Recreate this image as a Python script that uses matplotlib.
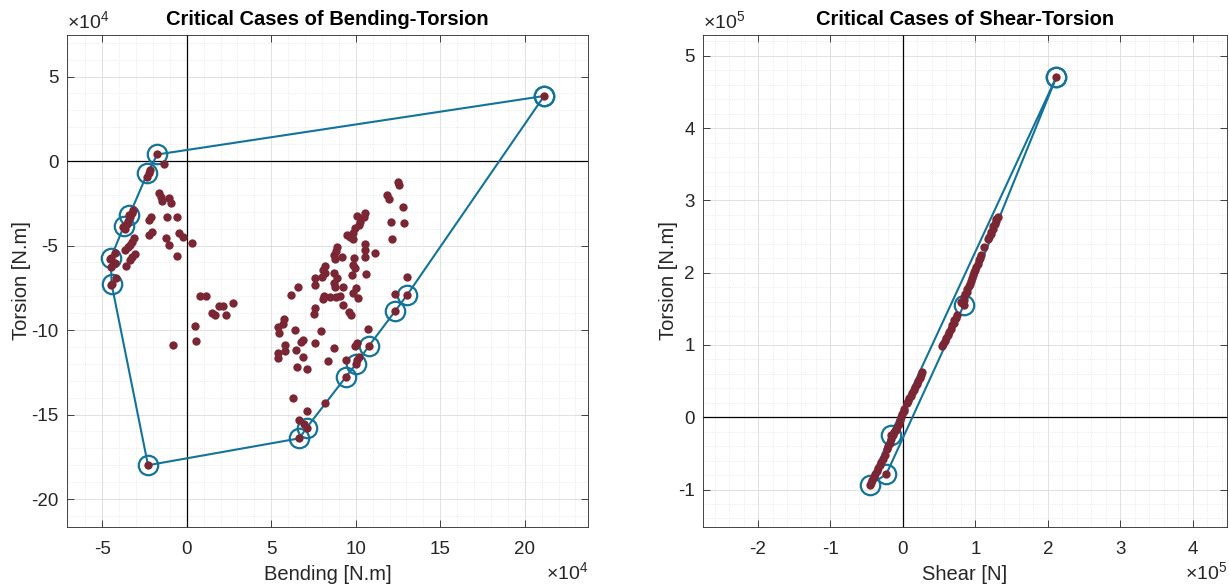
import matplotlib.pyplot as plt
from matplotlib.ticker import MultipleLocator

plt.rcParams['font.family'] = ['Liberation Sans', 'DejaVu Sans']
plt.rcParams['mathtext.fontset'] = 'custom'
plt.rcParams['mathtext.rm'] = 'Liberation Sans'

# bending-torsion cases, both in units of 1e4 N.m
bend = [-1.74, -1.32, -2.33, -2.25, -2.17, -1.62, -1.54, -1.46, -1.07, -0.93,
        -3.16, -3.25, -3.35, -3.45, -3.55, -3.65, -3.75, -2.13, -2.21, -1.14,
        -0.59, -2.07, -2.21, -1.22, -1.07, -0.43, -0.24, 0.34, -0.55, -3.12,
        -3.25, -3.35, -3.45, -3.65, -3.06, -3.25, -3.35, -3.59, -4.22, -4.54,
        -4.22, -4.50, -4.20, -4.48, -3.39, -3.71, -4.50, -4.44, -2.29,
        0.79, 1.14, 1.93, 2.17, 2.76, 1.48, 1.68, 2.31, 0.51, 0.55, -0.79,
        12.52, 12.58, 11.87, 11.95, 12.78, 12.09, 12.86, 12.17, 10.06, 10.55,
        10.51, 10.26, 10.22, 9.96, 9.82, 9.51, 9.66, 9.86, 10.55, 10.57,
        10.53, 11.12, 8.92, 8.84, 8.72, 8.76, 9.21, 9.90, 9.86, 9.98,
        9.76, 10.61, 8.19, 8.09, 8.21, 8.01, 8.72, 8.92, 8.72, 8.78,
        9.23, 7.59, 7.61, 6.57, 6.19, 8.13, 8.05, 8.48, 8.84, 9.07,
        9.99, 9.82, 10.12, 9.23, 9.63, 9.70, 7.59, 7.55, 13.02, 12.33,
        13.04, 12.35, 5.76, 5.72, 5.38, 5.44, 6.39, 7.93, 6.86, 6.79,
        7.59, 5.82, 5.80, 5.40, 5.42, 6.47, 6.90, 6.51, 7.10, 8.72,
        8.38, 10.75, 10.79, 10.10, 9.96, 10.22, 10.06, 10.02, 9.41, 9.43,
        8.19, 6.27, 7.10, 6.67, 6.96, 7.10, 6.67, 21.15]
tors_b = [0.39, -0.16, -0.93, -0.73, -0.53, -1.91, -2.11, -2.35, -2.17, -2.50,
          -2.90, -3.10, -3.33, -3.53, -3.75, -4.04, -3.89, -3.33, -3.49, -3.29,
          -3.33, -4.18, -4.40, -4.58, -4.99, -4.28, -4.52, -4.87, -5.62, -4.58,
          -4.77, -4.97, -5.11, -5.27, -5.52, -5.66, -5.86, -6.21, -5.42, -5.82,
          -6.02, -6.29, -6.94, -7.36, -3.20, -3.83, -5.76, -7.30, -18.0,
          -7.97, -7.97, -8.58, -8.58, -8.38, -8.97, -9.13, -9.13, -9.74, -10.67, -10.89,
          -1.22, -1.42, -2.01, -2.27, -2.70, -3.61, -3.69, -4.64, -3.25, -3.06,
          -3.29, -3.59, -3.79, -3.98, -4.28, -4.38, -4.52, -4.64, -4.91, -5.27,
          -5.70, -5.42, -5.11, -5.31, -5.56, -5.82, -5.66, -5.76, -6.15, -6.35,
          -6.75, -6.71, -6.21, -6.45, -6.61, -6.84, -6.61, -6.94, -7.20, -7.44,
          -7.48, -6.94, -7.34, -7.44, -7.93, -7.99, -8.19, -8.03, -8.07, -7.97,
          -7.53, -7.79, -8.09, -8.54, -8.92, -9.13, -8.70, -9.05, -6.88, -7.87,
          -7.93, -8.86, -9.37, -9.64, -9.80, -10.16, -10.02, -10.06, -10.59, -10.69,
          -10.77, -10.89, -11.24, -11.34, -11.68, -11.20, -11.62, -12.21, -12.31, -11.05,
          -11.83, -9.92, -10.93, -10.75, -10.95, -11.58, -11.78, -12.01, -11.78, -12.76,
          -14.30, -14.02, -14.79, -15.33, -15.58, -15.78, -16.41, 3.85]
hull_bend = [21.15, -1.74, -2.33, -3.39, -3.71, -4.50, -4.44, -2.29, 6.67,
             7.10, 9.43, 10.02, 10.79, 12.35, 13.04, 21.15]
hull_tors_b = [3.85, 0.39, -0.73, -3.20, -3.83, -5.76, -7.30, -18.0, -16.41,
               -15.78, -12.76, -12.01, -10.93, -8.86, -7.93, 3.85]

# shear-torsion cases, shear in 1e5 N, torsion in 1e5 N.m
shear = [1.31, 1.29, 1.28, 1.27, 1.25, 1.24, 1.22, 1.21, 1.19, 1.18, 1.12,
         1.08, 1.06, 1.05, 1.03, 1.01, 1.00, 0.98, 0.97, 0.95, 0.94, 0.92,
         0.91, 0.89, 0.88, 0.86, 0.85, 0.84, 0.82, 0.80, 0.84,
         0.75, 0.73, 0.71, 0.70, 0.68, 0.66, 0.64, 0.62, 0.60, 0.58, 0.56, 0.54,
         0.27, 0.25, 0.23, 0.21, 0.19, 0.17, 0.15, 0.13, 0.11, 0.09, 0.07, 0.05,
         0.02, 0.01, -0.01, -0.02, -0.04, -0.06, -0.08, -0.10, -0.12, -0.14,
         -0.16, -0.18, -0.20, -0.22, -0.25, -0.28, -0.30, -0.32, -0.34, -0.36,
         -0.38, -0.40, -0.42, -0.44, -0.46, -0.23, -0.17, 2.12]
tors_s = [2.77, 2.74, 2.71, 2.68, 2.64, 2.60, 2.56, 2.53, 2.50, 2.47, 2.36,
          2.24, 2.20, 2.17, 2.12, 2.08, 2.04, 2.01, 1.97, 1.93, 1.89, 1.85,
          1.82, 1.78, 1.74, 1.70, 1.66, 1.62, 1.58, 1.60, 1.55,
          1.42, 1.38, 1.34, 1.30, 1.27, 1.22, 1.18, 1.14, 1.10, 1.06, 1.02, 0.99,
          0.62, 0.58, 0.54, 0.50, 0.46, 0.42, 0.38, 0.34, 0.30, 0.27, 0.23, 0.20,
          0.12, 0.08, 0.04, 0.00, -0.04, -0.09, -0.13, -0.17, -0.21, -0.25,
          -0.30, -0.35, -0.40, -0.44, -0.52, -0.58, -0.62, -0.66, -0.70, -0.75,
          -0.79, -0.83, -0.87, -0.91, -0.94, -0.79, -0.24, 4.71]
hull_shear = [2.12, 0.84, -0.23, -0.46, -0.17, 2.12]
hull_tors_s = [4.71, 1.55, -0.79, -0.94, -0.24, 4.71]

dot_col = '#7B2634'
hull_col = '#13739A'
txt_col = '#262626'


def draw(ax, x, y, hx, hy, xlim, ylim, major, minor, power, title, xlab):
    ax.axhline(0, color='k', lw=0.9, zorder=1.5)
    ax.axvline(0, color='k', lw=0.9, zorder=1.5)
    ax.plot(hx, hy, '-o', color=hull_col, lw=1.5, ms=14, mfc='none', mew=1.6, zorder=2)
    ax.plot(x, y, 'o', color=dot_col, ms=6, mec='none', zorder=3)
    ax.set_xlim(xlim)
    ax.set_ylim(ylim)
    for a in (ax.xaxis, ax.yaxis):
        a.set_major_locator(MultipleLocator(major))
        a.set_minor_locator(MultipleLocator(minor))
    ax.grid(which='major', color='#dcdcdc', lw=0.6)
    ax.grid(which='minor', color='#e3e3e3', lw=0.6, ls=':')
    ax.set_axisbelow(True)
    ax.tick_params(which='major', direction='in', top=True, right=True, length=5,
                   width=0.6, labelsize=13.5, colors=txt_col)
    ax.tick_params(axis='x', pad=10.5)
    ax.tick_params(axis='y', pad=6)
    ax.tick_params(which='minor', length=0)
    ax.xaxis.set_major_formatter(lambda v, p: f'{v:g}')
    ax.yaxis.set_major_formatter(lambda v, p: f'{v:g}')
    for s in ax.spines.values():
        s.set_color(txt_col)
        s.set_linewidth(0.6)
    ax.set_title(title, fontsize=14.5, fontweight='bold', pad=7)
    ax.set_xlabel(xlab, fontsize=14.5, color=txt_col, labelpad=5)
    ax.set_ylabel('Torsion [N.m]', fontsize=14.5, color=txt_col, labelpad=0)
    ax.text(0.0, 1.004, '×10$^{%d}$' % power, transform=ax.transAxes,
            ha='left', va='bottom', fontsize=14, color=txt_col)
    ax.text(1.0, -0.07, '×10$^{%d}$' % power, transform=ax.transAxes,
            ha='right', va='top', fontsize=14, color=txt_col)


fig = plt.figure(figsize=(12.29, 5.87), dpi=100)
ax1 = fig.add_axes([0.0543, 0.1027, 0.4242, 0.8377])
ax2 = fig.add_axes([0.5720, 0.1027, 0.4264, 0.8377])

draw(ax1, bend, tors_b, hull_bend, hull_tors_b, (-7.1, 23.75), (-21.64, 7.46),
     5, 1, 4, 'Critical Cases of Bending-Torsion', 'Bending [N.m]')
draw(ax2, shear, tors_s, hull_shear, hull_tors_s, (-2.76, 4.475), (-1.515, 5.29),
     1, 0.2, 5, 'Critical Cases of Shear-Torsion', 'Shear [N]')

fig.savefig('out.png', dpi=100)
